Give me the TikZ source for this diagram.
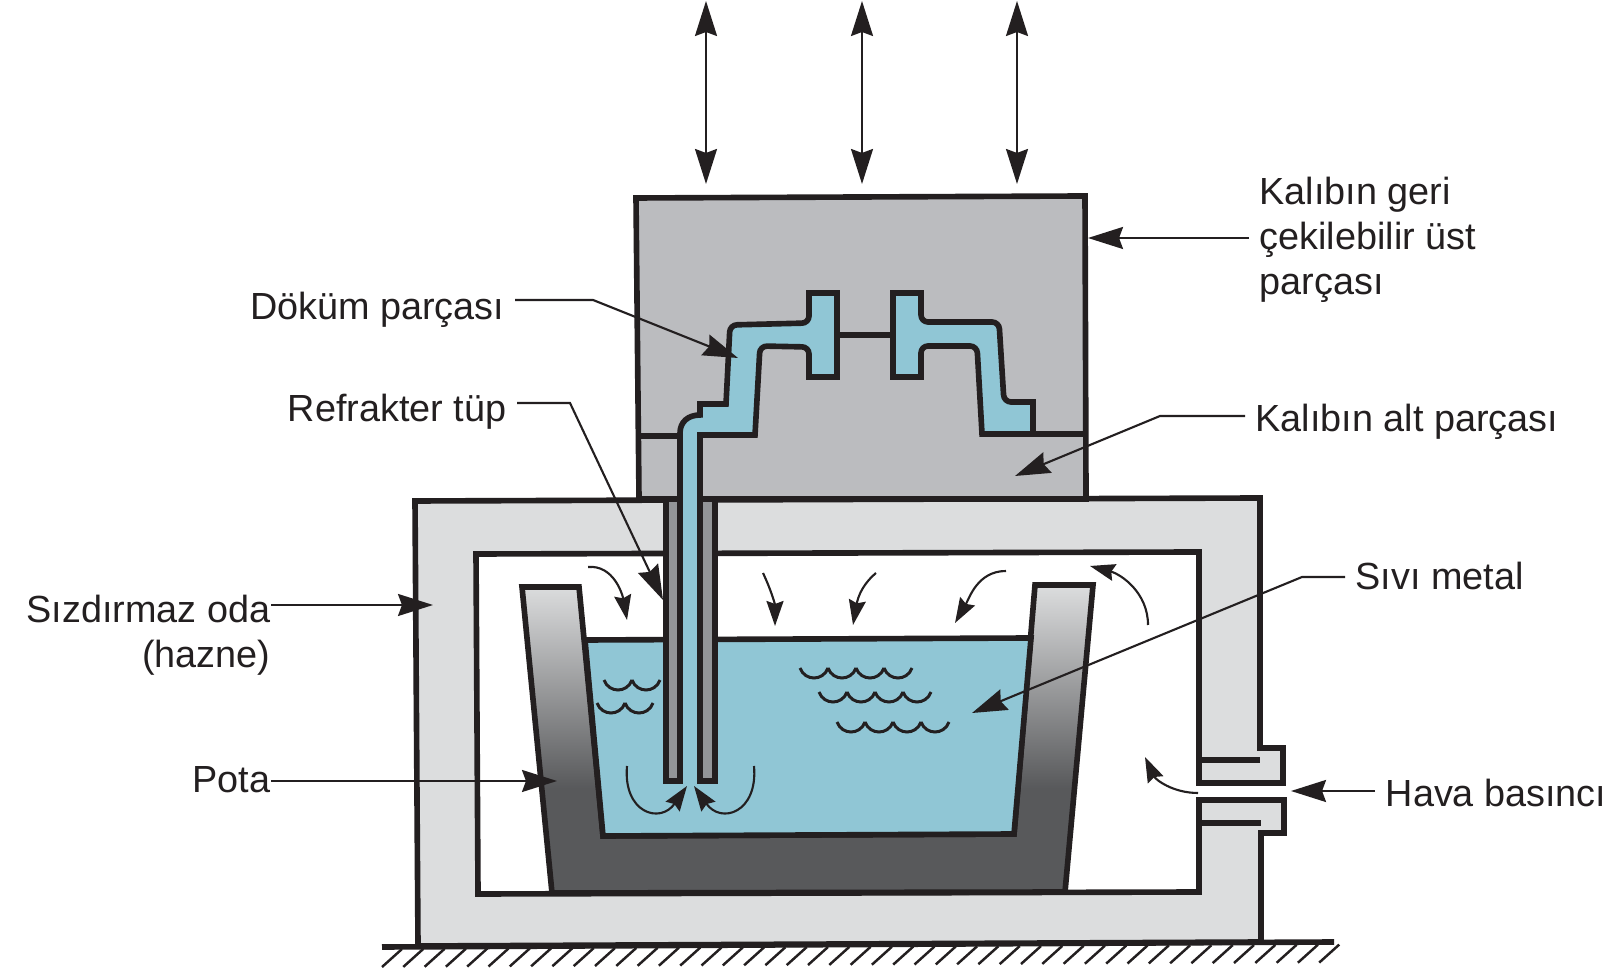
\documentclass[tikz,border=0pt]{standalone}
\usepackage{fontspec}
\setmainfont{Liberation Sans}
\usetikzlibrary{arrows.meta}

\definecolor{inkline}{HTML}{231F20}
\definecolor{moldgray}{HTML}{BBBCBF}
\definecolor{chambergray}{HTML}{DCDDDE}
\definecolor{tubegray}{HTML}{939598}
\definecolor{meltblue}{HTML}{90C6D5}
\pgfdeclareverticalshading{potagrad}{100bp}{
    rgb(0bp)=(.345,.349,.357); rgb(42bp)=(.345,.349,.357);
    rgb(75bp)=(.863,.867,.871); rgb(100bp)=(.863,.867,.871)}

\newcommand{\scallops}[3]{
    \foreach \k in {1,...,#3}
    {
        \draw [wavy] (#1 + \k*28 - 28,#2) to[out=-70,in=-110,looseness=1.3] (#1 + \k*28,#2);
    }
}

\begin{document}
\begin{tikzpicture}[x=.01cm, y=-.01cm,
    wall/.style={line width=1.6pt, draw=inkline, line join=miter},
    wavy/.style={line width=.85pt, draw=inkline},
    leader/.style={line width=.6pt, draw=inkline, -{Stealth[length=.35cm,width=.22cm,inset=.04cm]}},
    lift/.style={line width=.6pt, draw=inkline, {Stealth[length=.35cm,width=.22cm,inset=.04cm]}-{Stealth[length=.35cm,width=.22cm,inset=.04cm]}},
    flow/.style={line width=.6pt, draw=inkline, -{Stealth[length=.25cm,width=.17cm,inset=.03cm]}},
    every node/.style={font=\fontsize{10.75}{12.8}\selectfont, text=inkline, inner sep=.1cm}]
    \useasboundingbox (0,0) rectangle (1619,968);

    % Ground line and hatching
    \draw [wall] (382,947) -- (1334,942);
    \foreach \i in {0,...,44}
    {
        \draw [line width=.7pt, draw=inkline] (382 + \i*21.3,967 - \i*.1) -- (402 + \i*21.3,949 - \i*.1);
    }

    % Sealed chamber with the air port
    \draw [wall, fill=chambergray] (415,501) -- (1260,498) -- (1260,748) -- (1283,748) -- (1283,783)
        -- (1199,783) -- (1199,552) -- (476,554) -- (478,894) -- (1199,892) -- (1199,800)
        -- (1284,800) -- (1284,833) -- (1261,833) -- (1261,942) -- (418,946) -- cycle;
    \draw [wall] (1199,760) -- (1260,760);
    \draw [wall] (1199,823) -- (1261,823);

    % Crucible
    \draw [wall, shading=potagrad] (522,587) -- (579,587) -- (603,836) -- (1014,834) -- (1035,585)
        -- (1093,585) -- (1065,892) -- (552,893) -- cycle;

    % Molten metal
    \draw [wall, fill=meltblue] (585,640) -- (603,836) -- (1014,834) -- (1031,638) -- cycle;

    % Waves
    \scallops{800}{668}{4}
    \scallops{819}{692}{4}
    \scallops{837}{722}{4}
    \scallops{604}{680}{2}
    \scallops{597}{703}{2}

    % Upper and lower mold
    \draw [wall, fill=moldgray] (636,198) -- (1085,196) -- (1086,499) -- (639,499) -- cycle;
    \draw [wall] (638,436) -- (680,436);
    \draw [wall] (1033,434) -- (1086,434);

    % Refractory tube walls
    \draw [wall, fill=tubegray] (666,499) rectangle (680,781);
    \draw [wall, fill=tubegray] (700,499) rectangle (715,781);

    % Casting, fed through the tube
    \draw [wall, fill=meltblue] (680,781) -- (680,433) .. controls (680,422) and (688,415) .. (700,415)
        -- (700,404) -- (726,404) [rounded corners=.07cm] -- (730,325) -- (809,323) [sharp corners]
        -- (809,293) -- (837,293) -- (837,377) -- (809,377) [rounded corners=.07cm] -- (809,347)
        -- (760,346) [sharp corners] -- (755,435) -- (700,435) -- (700,781);
    \draw [wall, fill=meltblue] (893,293) -- (921,293) [rounded corners=.07cm] -- (921,322) -- (999,322)
        -- (1004,402) [sharp corners] -- (1033,402) -- (1033,434) -- (982,434) [rounded corners=.07cm]
        -- (977,346) -- (921,346) [sharp corners] -- (921,377) -- (893,377) -- cycle;
    \draw [wall] (837,335) -- (893,335);

    % Air flow in the chamber
    \draw [flow] (588,567) to[out=5,in=100] (627,620);
    \draw [flow] (763,573) to[out=-65,in=90] (775,626);
    \draw [flow] (876,573) to[out=-140,in=80] (853,625);
    \draw [flow] (1006,571) to[out=180,in=60] (955,623);
    \draw [flow] (1148,625) to[out=90,in=-15] (1090,566);
    \draw [flow] (1198,793) to[out=180,in=-65] (1145,757);

    % Flow into the tube mouth
    \draw [flow] (627,766) to[out=-95,in=-125,looseness=1.9] (687,786);
    \draw [flow] (754,766) to[out=-85,in=-55,looseness=1.9] (694,786);

    % Ram arrows on the upper mold
    \foreach \x in {706,862,1017}
    {
        \coordinate (ramtop\x) at (\x,1);
        \coordinate (rambot\x) at (\x,184);
        \draw [lift] (ramtop\x) -- (rambot\x);
    }

    % Labels on the left
    \node (dokum) [anchor=base east] at (515,320) {Döküm parçası};
    \node (refrakter) [anchor=base east] at (517,422) {Refrakter tüp};
    \node (sizdirmaz) [anchor=east, align=right, inner sep=0pt] at (271,635) {Sızdırmaz oda\\(hazne)};
    \node (pota) [anchor=base east, inner sep=0pt] at (271,793) {Pota};

    % Labels on the right
    \node (geri) [anchor=west, align=left] at (1249,240) {Kalıbın geri\\çekilebilir üst\\parçası};
    \node (alt) [anchor=base west] at (1245,432) {Kalıbın alt parçası};
    \node (sivi) [anchor=base west] at (1345,590) {Sıvı metal};
    \node (hava) [anchor=base west] at (1375,807) {Hava basıncı};

    % Leader tips and bends
    \coordinate (dokumbend) at (593,300);
    \coordinate (dokumtip) at (738,358);
    \coordinate (refrakterbend) at (570,403);
    \coordinate (refraktertip) at (663,600);
    \coordinate (sizdirmaztip) at (433,605);
    \coordinate (potatip) at (557,781);
    \coordinate (geritip) at (1088,238);
    \coordinate (altbend) at (1160,416);
    \coordinate (alttip) at (1015,476);
    \coordinate (sivibend) at (1302,577);
    \coordinate (sivitip) at (972,713);
    \coordinate (havatip) at (1291,791);

    \draw [leader] (dokum.east |- dokumbend) -- (dokumbend) -- (dokumtip);
    \draw [leader] (refrakter.east |- refrakterbend) -- (refrakterbend) -- (refraktertip);
    \draw [leader] (sizdirmaz.east |- sizdirmaztip) -- (sizdirmaztip);
    \draw [leader] (pota.east |- potatip) -- (potatip);
    \draw [leader] (geri.west |- geritip) -- (geritip);
    \draw [leader] (alt.west |- altbend) -- (altbend) -- (alttip);
    \draw [leader] (sivi.west |- sivibend) -- (sivibend) -- (sivitip);
    \draw [leader] (hava.west |- havatip) -- (havatip);
\end{tikzpicture}
\end{document}
